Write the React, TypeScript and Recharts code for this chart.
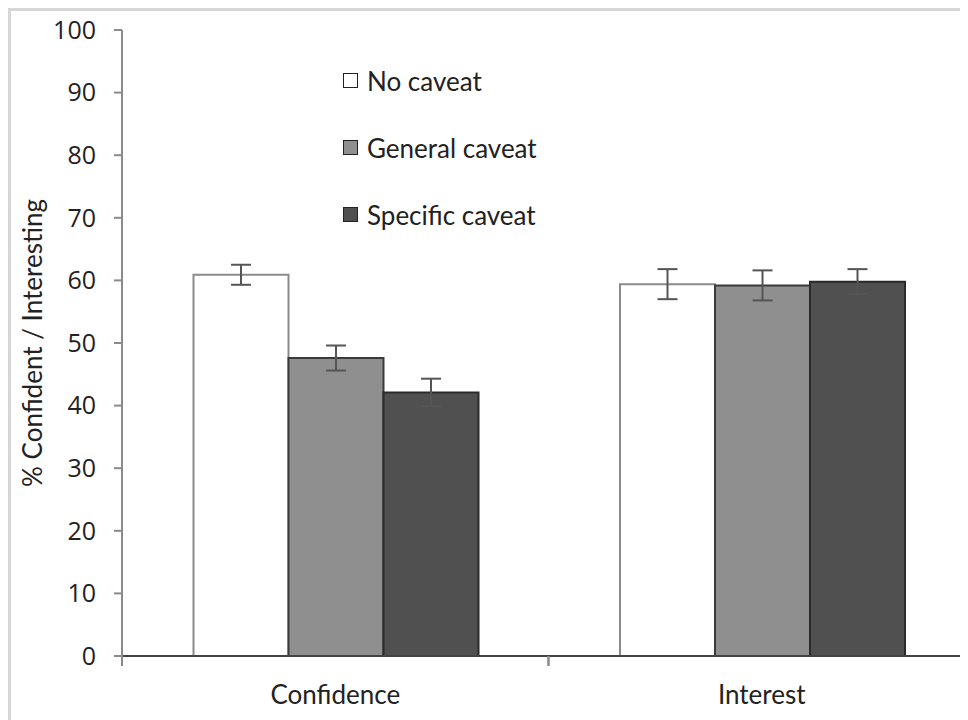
import { BarChart, Bar, XAxis, YAxis, ErrorBar } from 'recharts'

const categories = ['Confidence', 'Interest']
const noCaveat = [60.9, 59.4]
const noCaveatErr = [1.6, 2.4]
const generalCaveat = [47.6, 59.2]
const generalCaveatErr = [2.0, 2.4]
const specificCaveat = [42.1, 59.8]
const specificCaveatErr = [2.2, 2.0]
const yTicks = [0, 10, 20, 30, 40, 50, 60, 70, 80, 90, 100]

const SERIES = [
  { key: 'none', name: 'No caveat', fill: '#ffffff', stroke: '#8a8a8a' },
  { key: 'general', name: 'General caveat', fill: '#8f8f8f', stroke: '#3a3a3a' },
  { key: 'specific', name: 'Specific caveat', fill: '#505050', stroke: '#2a2a2a' },
]

const data = categories.map((name, i) => ({
  name,
  none: noCaveat[i],
  noneErr: noCaveatErr[i],
  general: generalCaveat[i],
  generalErr: generalCaveatErr[i],
  specific: specificCaveat[i],
  specificErr: specificCaveatErr[i],
}))

const W = 1000
const H = 709
const M = { top: 19, right: 36, left: 0, bottom: 0 }
const Y_W = 111
const X_H = 64
const band = (W - M.left - M.right - Y_W) / categories.length

const FONT = 'Lato, "Open Sans", sans-serif'

function XTick(props: any) {
  const { x, y, payload } = props
  return (
    <g>
      <line x1={x - band / 2} y1={y - 8} x2={x - band / 2} y2={y + 2} stroke="#8a8a8a" strokeWidth={2} />
      <line x1={x + band / 2} y1={y - 8} x2={x + band / 2} y2={y + 2} stroke="#8a8a8a" strokeWidth={2} />
      <text x={x} y={y + 40} textAnchor="middle" fill="#222" fontSize={26} fontFamily={FONT}>
        {payload.value}
      </text>
    </g>
  )
}

function LegendBox() {
  return (
    <div style={{ position: 'absolute', left: 332, top: 36, fontFamily: FONT, fontSize: 26, color: '#222' }}>
      {SERIES.map((s) => (
        <div key={s.key} style={{ display: 'flex', alignItems: 'center', height: 67 }}>
          <span
            style={{
              width: 13, height: 13, background: s.fill, border: '1px solid #222',
              display: 'inline-block', marginRight: 9,
            }}
          />
          <span>{s.name}</span>
        </div>
      ))}
    </div>
  )
}

export default function App() {
  return (
    <div
      style={{
        position: 'relative', width: 957, height: 709, overflow: 'hidden',
        borderTop: '3px solid #d6d6d6', borderLeft: '3px solid #d6d6d6', background: '#fff',
      }}
    >
      <BarChart width={W} height={H} data={data} margin={M} barGap={0} barCategoryGap={71.5}>
        <XAxis
          dataKey="name"
          height={X_H}
          stroke="#444"
          strokeWidth={2}
          tickLine={false}
          tick={<XTick />}
          interval={0}
        />
        <YAxis
          width={Y_W}
          domain={[0, 100]}
          ticks={yTicks}
          stroke="#8a8a8a"
          strokeWidth={2}
          tickSize={8}
          tickMargin={18}
          interval={0}
          tick={{ fill: '#222', fontSize: 25, fontFamily: '"Open Sans", sans-serif' }}
          label={{
            value: '% Confident / Interesting', angle: -90, position: 'insideLeft', offset: 22,
            style: { textAnchor: 'middle', fill: '#222', fontSize: 26, fontFamily: FONT },
          }}
        />
        {SERIES.map((s) => (
          <Bar
            key={s.key}
            dataKey={s.key}
            name={s.name}
            fill={s.fill}
            stroke={s.stroke}
            strokeWidth={2}
            isAnimationActive={false}
          >
            <ErrorBar dataKey={`${s.key}Err`} width={10} stroke="#555" strokeWidth={2} />
          </Bar>
        ))}
      </BarChart>
      <LegendBox />
    </div>
  )
}
